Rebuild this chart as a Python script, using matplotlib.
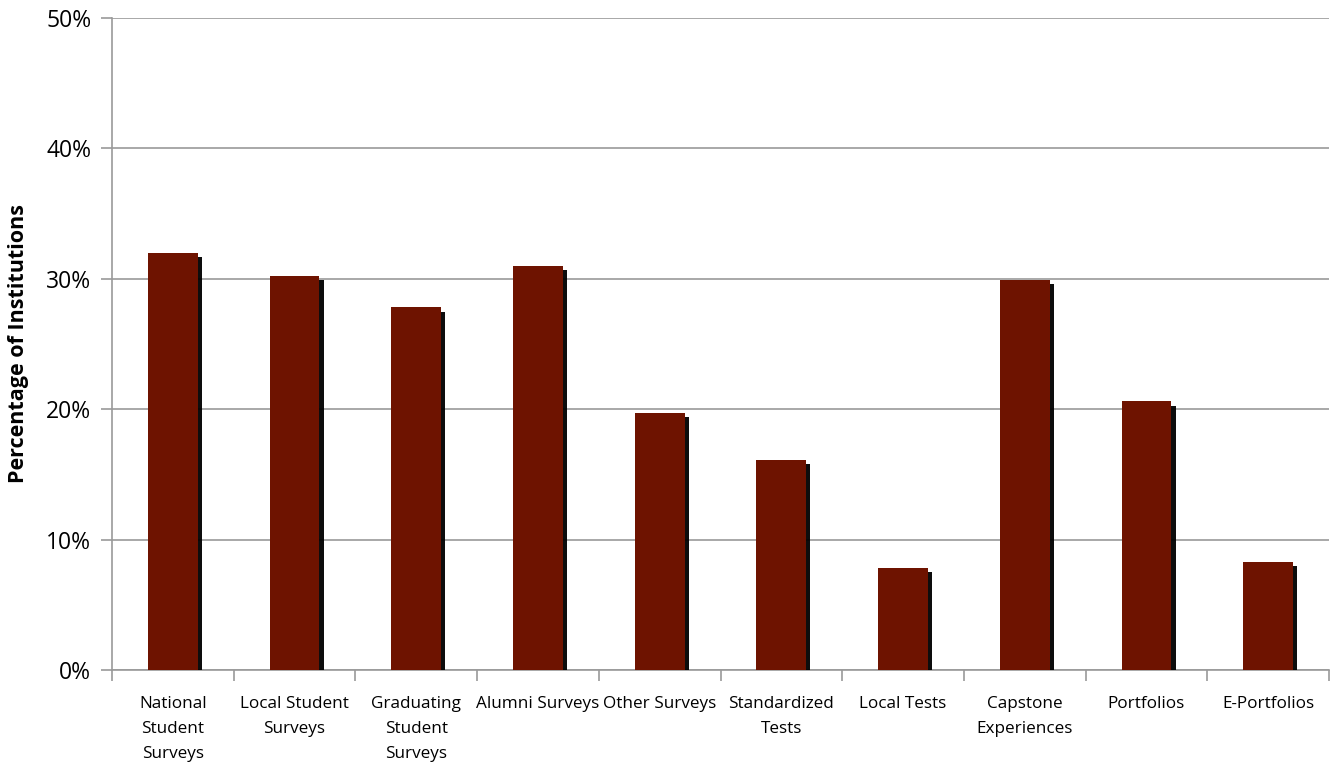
import matplotlib
matplotlib.use("Agg")
import matplotlib.pyplot as plt
import matplotlib.patheffects as pe
import numpy as np

categories = [
    "National\nStudent\nSurveys",
    "Local Student\nSurveys",
    "Graduating\nStudent\nSurveys",
    "Alumni Surveys",
    "Other Surveys",
    "Standardized\nTests",
    "Local Tests",
    "Capstone\nExperiences",
    "Portfolios",
    "E-Portfolios",
]
values = [32.0, 30.2, 27.8, 31.0, 19.7, 16.1, 7.8, 29.9, 20.6, 8.3]
y_ticks = [0, 10, 20, 30, 40, 50]
y_tick_labels = ["0%", "10%", "20%", "30%", "40%", "50%"]

plt.rcParams["font.family"] = ["Open Sans", "DejaVu Sans"]

W, H = 1330, 764
fig = plt.figure(figsize=(W / 100, H / 100), dpi=100)
ax = fig.add_axes([112 / W, 1 - 670 / H, (1329 - 112) / W, (670 - 18) / H])

x = np.arange(len(categories))
bars = ax.bar(x, values, width=0.41, color="#6E1300", zorder=3)
for b in bars:
    b.set_path_effects([
        pe.SimplePatchShadow(offset=(3, -3), shadow_rgbFace="black", alpha=0.95),
        pe.Normal(),
    ])

ax.set_xlim(-0.5, len(categories) - 0.5)
ax.set_ylim(0, 50)

grid_c = "#9a9a9a"
ax.set_yticks(y_ticks)
ax.set_yticklabels(y_tick_labels, fontsize=16.5)
ax.yaxis.grid(True, color=grid_c, linewidth=1.2, zorder=0)
ax.set_axisbelow(True)

# category boundaries carry the ticks; labels sit at the centres
ax.set_xticks(np.arange(len(categories) + 1) - 0.5)
ax.set_xticklabels([])
ax.set_xticks(x, minor=True)
ax.set_xticklabels(categories, minor=True, fontsize=12.3, linespacing=1.72, va="top")
ax.tick_params(axis="x", which="major", length=8, width=1.2, color=grid_c, direction="out")
ax.tick_params(axis="x", which="minor", length=0, pad=19)
ax.tick_params(axis="y", length=8, width=1.2, color=grid_c, pad=7)

for side in ["top", "right"]:
    ax.spines[side].set_visible(False)
for side in ["left", "bottom"]:
    ax.spines[side].set_color(grid_c)
    ax.spines[side].set_linewidth(1.2)

fig.text(19 / W, 1 - 344 / H, "Percentage of Institutions", rotation=90,
         ha="center", va="center", fontsize=15.5, fontweight="bold")

fig.savefig("out.png", dpi=100)
